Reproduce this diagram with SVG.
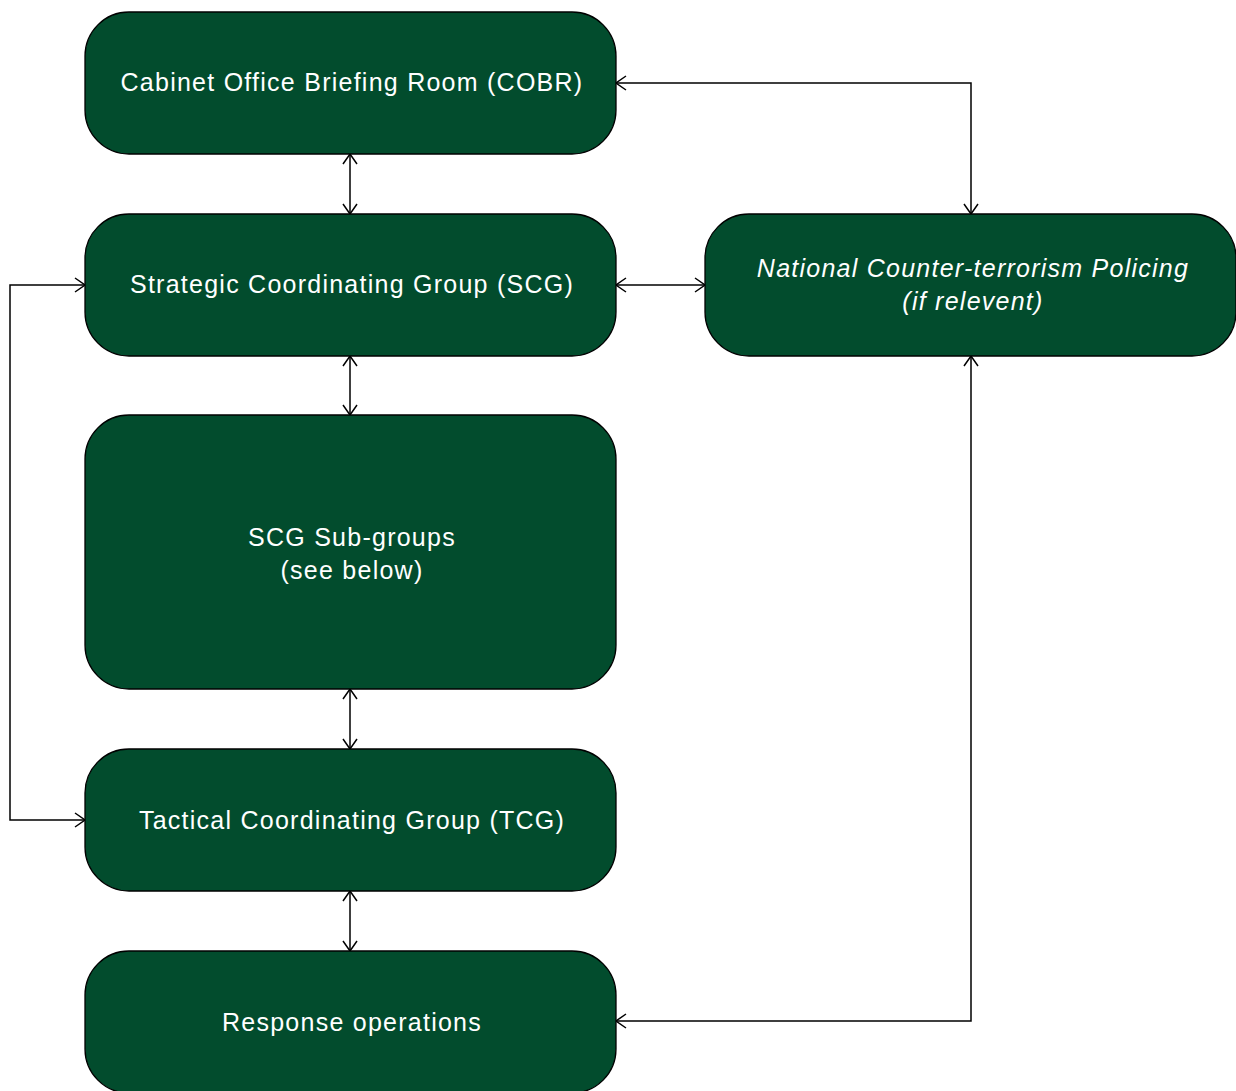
<svg xmlns="http://www.w3.org/2000/svg" width="1236" height="1091" viewBox="0 0 1236 1091">
<defs>
<style>
.box{fill:#024c2d;stroke:#000;stroke-width:1.3}
.t{font-family:"Liberation Sans",Arial,sans-serif;font-size:25px;letter-spacing:1.25px;fill:#fff;text-anchor:middle}
.i{font-style:italic}
.c{fill:none;stroke:#000;stroke-width:1.5}
</style>
<marker id="a" viewBox="0 0 12 16" refX="11" refY="8" markerWidth="12" markerHeight="16" markerUnits="userSpaceOnUse" orient="auto-start-reverse">
<path d="M1,1 L11,8 L1,15" fill="none" stroke="#000" stroke-width="1.5"/>
</marker>
</defs>
<rect width="1236" height="1091" fill="#fff"/>
<g id="connectors">
<path class="c" d="M350,154 V214" marker-start="url(#a)" marker-end="url(#a)"/>
<path class="c" d="M350,356 V415" marker-start="url(#a)" marker-end="url(#a)"/>
<path class="c" d="M350,689 V749" marker-start="url(#a)" marker-end="url(#a)"/>
<path class="c" d="M350,891 V951" marker-start="url(#a)" marker-end="url(#a)"/>
<path class="c" d="M616,285 H705" marker-start="url(#a)" marker-end="url(#a)"/>
<path class="c" d="M616,83 H971 V214" marker-start="url(#a)" marker-end="url(#a)"/>
<path class="c" d="M616,1021 H971 V356" marker-start="url(#a)" marker-end="url(#a)"/>
<path class="c" d="M85,285 H10 V820 H85" marker-start="url(#a)" marker-end="url(#a)"/>
</g>
<g id="cobr"><rect class="box" x="85" y="12" width="531" height="142" rx="44"/><text class="t" x="352" y="91">Cabinet Office Briefing Room (COBR)</text></g>
<g id="scg"><rect class="box" x="85" y="214" width="531" height="142" rx="44"/><text class="t" x="352" y="293">Strategic Coordinating Group (SCG)</text></g>
<g id="nctp"><rect class="box" x="705" y="214" width="531" height="142" rx="44"/><text class="t i" x="973" y="277">National Counter-terrorism Policing</text><text class="t i" x="973" y="310">(if relevent)</text></g>
<g id="subgroups"><rect class="box" x="85" y="415" width="531" height="274" rx="44"/><text class="t" x="352" y="546">SCG Sub-groups</text><text class="t" x="352" y="579">(see below)</text></g>
<g id="tcg"><rect class="box" x="85" y="749" width="531" height="142" rx="44"/><text class="t" x="352" y="829">Tactical Coordinating Group (TCG)</text></g>
<g id="response"><rect class="box" x="85" y="951" width="531" height="142" rx="44"/><text class="t" x="352" y="1031">Response operations</text></g>
</svg>
